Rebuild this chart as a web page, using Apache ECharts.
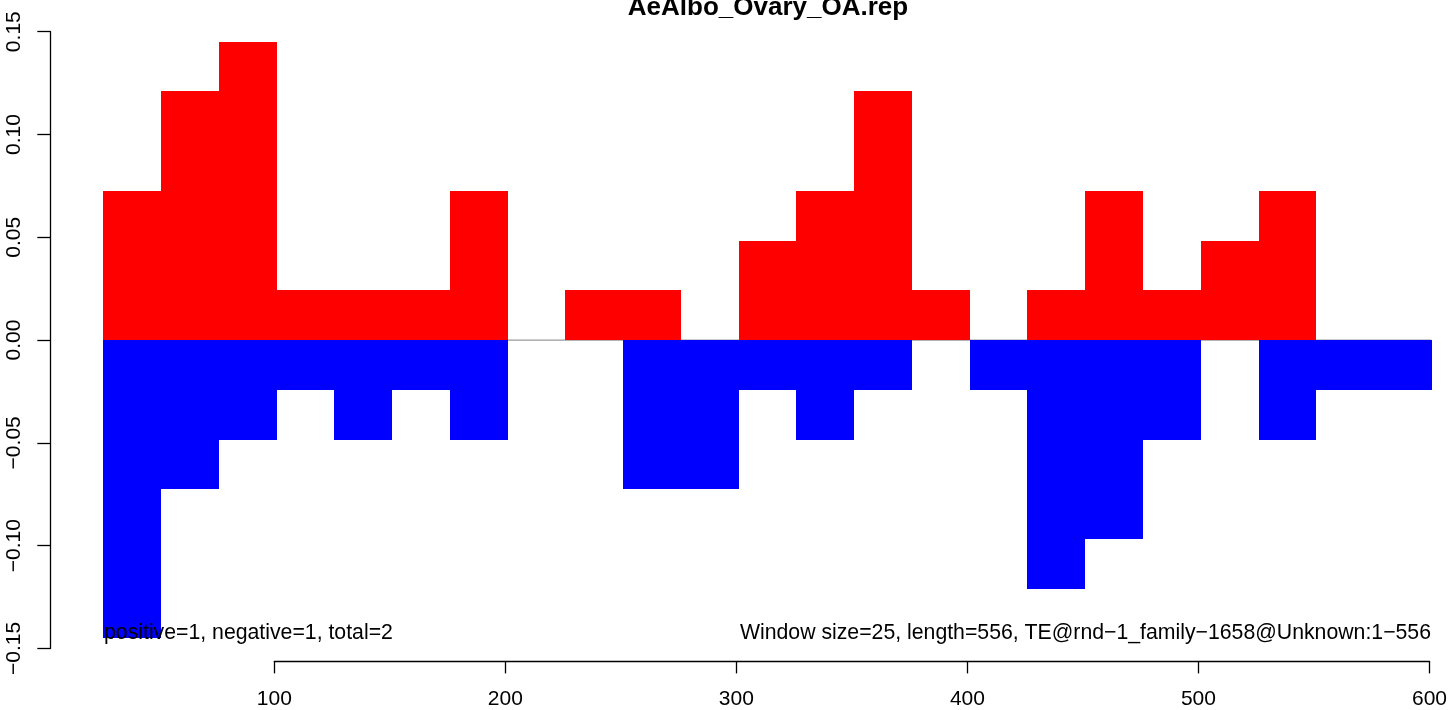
<!DOCTYPE html>
<html>
<head>
<meta charset="utf-8">
<script src="https://cdn.jsdelivr.net/npm/echarts@6/dist/echarts.min.js"></script>
<style>html,body{margin:0;padding:0;background:#fff;}#c{width:1450px;height:710px;}</style>
</head>
<body>
<div id="c"></div>
<script>
var titleText = 'AeAlbo_Ovary_OA.rep';
var windowSize = 25;
var windowStarts = [26, 51, 76, 101, 126, 151, 176, 201, 226, 251, 276, 301, 326, 351, 376, 401, 426, 451, 476, 501, 526, 551, 576];
var positiveValues = [0.0726, 0.121, 0.145, 0.0242, 0.0242, 0.0242, 0.0726, 0, 0.0242, 0.0242, 0, 0.0484, 0.0726, 0.121, 0.0242, 0, 0.0242, 0.0726, 0.0242, 0.0484, 0.0726, 0, 0];
var negativeValues = [-0.145, -0.0726, -0.0484, -0.0242, -0.0484, -0.0242, -0.0484, 0, 0, -0.0726, -0.0726, -0.0242, -0.0484, -0.0242, 0, -0.0242, -0.121, -0.0968, -0.0484, 0, -0.0484, -0.0242, -0.0242];
var xTicks = [100, 200, 300, 400, 500, 600];
var yTicks = [-0.15, -0.10, -0.05, 0.00, 0.05, 0.10, 0.15];
var leftNote = 'positive=1, negative=1, total=2';
var rightNote = 'Window size=25, length=556, TE@rnd\u22121_family\u22121658@Unknown:1\u2212556';

var FONT = '"Liberation Sans", Arial, Helvetica, sans-serif';
var chart = echarts.init(document.getElementById('c'), null, {renderer: 'canvas'});

function rectData(vals) {
  return windowStarts.map(function (s, i) { return [s, s + windowSize, vals[i]]; });
}
function renderRect(color) {
  return function (params, api) {
    var p0 = api.coord([api.value(0), 0]);
    var p1 = api.coord([api.value(1), api.value(2)]);
    var x0 = Math.round(Math.min(p0[0], p1[0])), x1 = Math.round(Math.max(p0[0], p1[0]));
    var y0 = Math.round(Math.min(p0[1], p1[1])), y1 = Math.round(Math.max(p0[1], p1[1]));
    if (y1 - y0 < 1) return null;
    return {type: 'rect', shape: {x: x0, y: y0, width: x1 - x0, height: y1 - y0}, style: {fill: color}};
  };
}
function fmtY(v) {
  var s = Math.abs(v).toFixed(2);
  return (v < -1e-9 ? '\u2212' : '') + s;
}
var lastEnd = windowStarts[windowStarts.length - 1] + windowSize;

chart.setOption({
  animation: false,
  backgroundColor: '#ffffff',
  grid: {left: 274.3, right: 20.5, top: 31.7, bottom: 58.3, containLabel: false},
  xAxis: {
    type: 'value', min: xTicks[0], max: xTicks[xTicks.length - 1], interval: 100, offset: 12.6,
    axisLine: {show: true, onZero: false, lineStyle: {color: '#000', width: 1.3}},
    axisTick: {show: true, length: 12.4, inside: false, lineStyle: {color: '#000', width: 1.3}},
    axisLabel: {show: true, margin: 28, color: '#000', fontSize: 21, fontFamily: FONT},
    splitLine: {show: false}
  },
  yAxis: {
    type: 'value', min: yTicks[0], max: yTicks[yTicks.length - 1], interval: 0.05, offset: 223.6,
    axisLine: {show: true, onZero: false, lineStyle: {color: '#000', width: 1.3}},
    axisTick: {show: true, length: 13.4, inside: false, lineStyle: {color: '#000', width: 1.3}},
    axisLabel: {show: true, rotate: 90, margin: 26.3, color: '#000', fontSize: 21, fontFamily: FONT, formatter: fmtY},
    splitLine: {show: false}
  },
  series: [
    {
      type: 'line', data: [[windowStarts[0], 0], [lastEnd, 0]], symbol: 'none',
      lineStyle: {color: '#9a9a9a', width: 1.3}, z: 1, silent: true
    },
    {type: 'custom', data: rectData(positiveValues), renderItem: renderRect('#ff0000'), clip: false, z: 2, silent: true},
    {type: 'custom', data: rectData(negativeValues), renderItem: renderRect('#0000ff'), clip: false, z: 2, silent: true}
  ],
  graphic: [
    {type: 'text', x: 768, y: 7.5, z: 10, style: {text: titleText, font: 'bold 26px ' + FONT, fill: '#000', align: 'center', verticalAlign: 'middle'}},
    {type: 'text', x: 104, y: 633, z: 10, style: {text: leftNote, font: '21.25px ' + FONT, fill: '#000', align: 'left', verticalAlign: 'middle'}},
    {type: 'text', x: 1431, y: 633, z: 10, style: {text: rightNote, font: '21.25px ' + FONT, fill: '#000', align: 'right', verticalAlign: 'middle'}}
  ]
});
</script>
</body>
</html>
